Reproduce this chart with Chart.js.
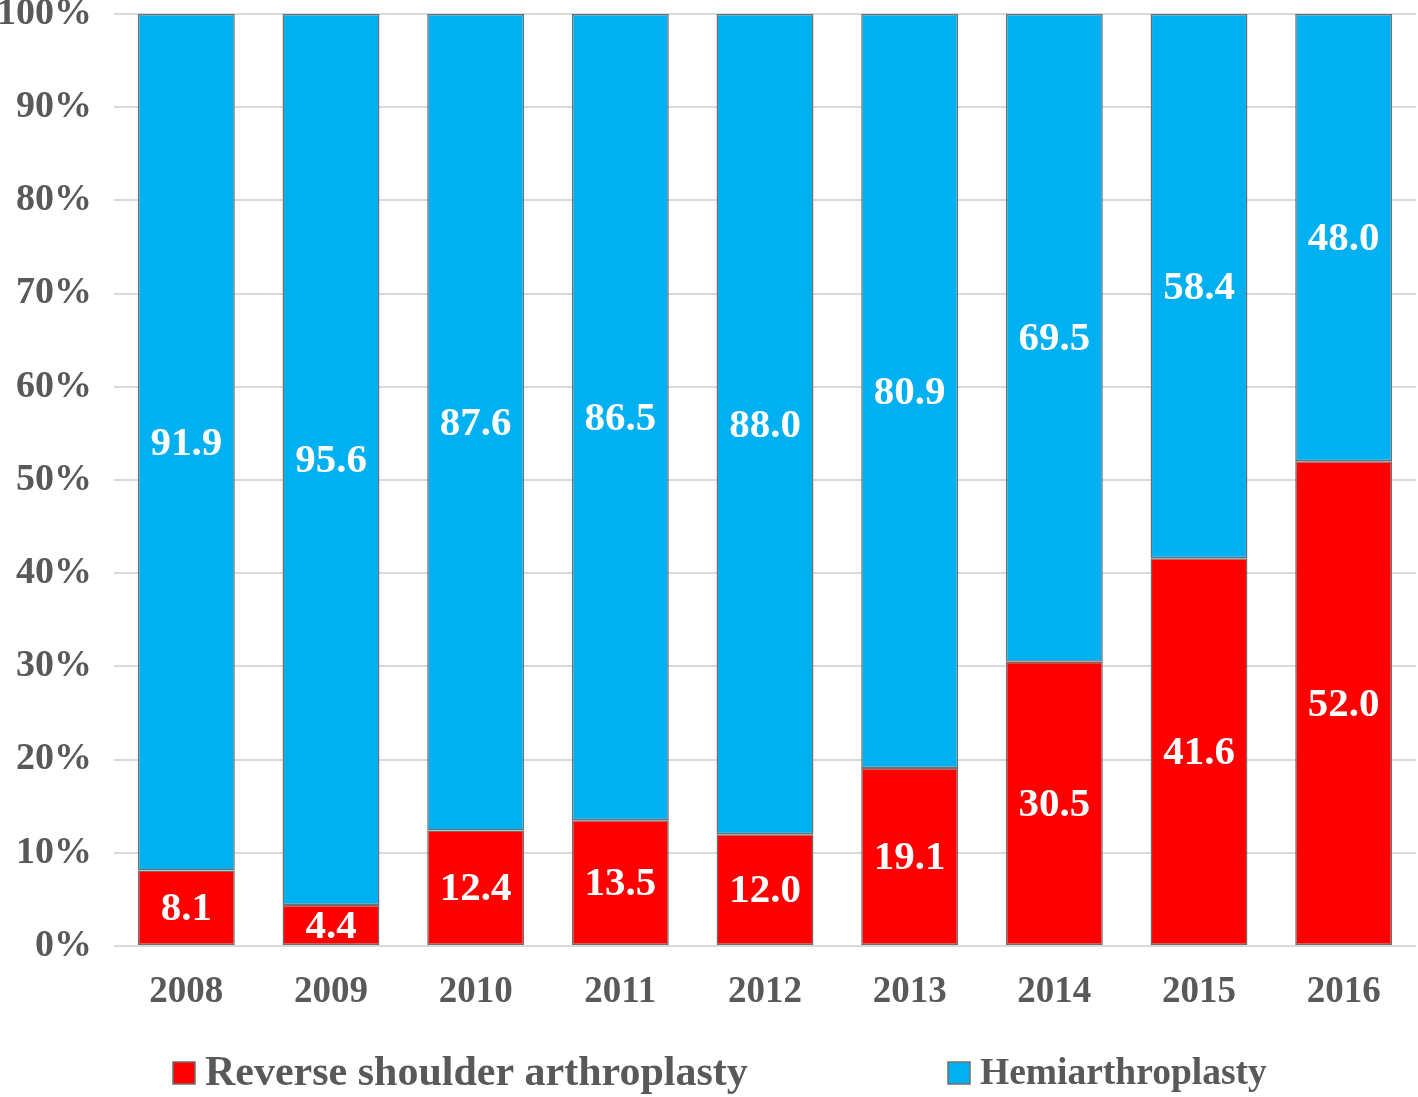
<!DOCTYPE html>
<html>
<head>
<meta charset="utf-8">
<script src="https://cdn.jsdelivr.net/npm/chart.js@4/dist/chart.umd.min.js"></script>
<style>
  html, body { margin: 0; padding: 0; background: #fff; }
  #wrap { width: 1418px; height: 1097px; }
</style>
</head>
<body>
<div id="wrap"><canvas id="chart" width="1418" height="1097"></canvas></div>
<script>
const years = ['2008', '2009', '2010', '2011', '2012', '2013', '2014', '2015', '2016'];
const reverseShoulder = [8.1, 4.4, 12.4, 13.5, 12.0, 19.1, 30.5, 41.6, 52.0];
const hemi = [91.9, 95.6, 87.6, 86.5, 88.0, 80.9, 69.5, 58.4, 48.0];
const yTicks = [0, 10, 20, 30, 40, 50, 60, 70, 80, 90, 100];

const serif = '"Liberation Serif", "Times New Roman", serif';
const grey = '#595959';

// white numbers in the middle of each segment
const barLabels = {
  id: 'barLabels',
  afterDatasetsDraw(chart) {
    const ctx = chart.ctx;
    ctx.save();
    ctx.font = 'bold 41px ' + serif;
    ctx.fillStyle = '#ffffff';
    ctx.textAlign = 'center';
    ctx.textBaseline = 'middle';
    chart.data.datasets.forEach((ds, i) => {
      chart.getDatasetMeta(i).data.forEach((bar, j) => {
        const y = (bar.y + bar.base) / 2;
        ctx.fillText(ds.data[j].toFixed(1), bar.x, y + 2);
      });
    });
    ctx.restore();
  }
};

// legend drawn at the bottom, wide spacing like the original
const bottomLegend = {
  id: 'bottomLegend',
  afterDraw(chart) {
    const ctx = chart.ctx;
    const xs = [173, 948];
    const sizes = [42, 37.5];
    const y = 1073;
    ctx.save();
    ctx.textBaseline = 'middle';
    chart.data.datasets.forEach((ds, i) => {
      ctx.fillStyle = ds.backgroundColor;
      ctx.fillRect(xs[i], y - 11, 22, 22);
      ctx.strokeStyle = '#6f6f6f';
      ctx.lineWidth = 1.5;
      ctx.strokeRect(xs[i], y - 11, 22, 22);
      ctx.font = 'bold ' + sizes[i] + 'px ' + serif;
      ctx.fillStyle = grey;
      ctx.fillText(ds.label, xs[i] + 32, y + 1);
    });
    ctx.restore();
  }
};

new Chart(document.getElementById('chart').getContext('2d'), {
  type: 'bar',
  data: {
    labels: years,
    datasets: [
      {
        label: 'Reverse shoulder arthroplasty',
        data: reverseShoulder,
        backgroundColor: '#ff0000',
        borderColor: '#6f6f6f',
        borderWidth: 1.5,
        borderSkipped: false
      },
      {
        label: 'Hemiarthroplasty',
        data: hemi,
        backgroundColor: '#00b0f0',
        borderColor: '#6f6f6f',
        borderWidth: 1.5,
        borderSkipped: false
      }
    ]
  },
  options: {
    responsive: false,
    animation: false,
    layout: { padding: { top: 14, right: 2, bottom: 56, left: 0 } },
    datasets: { bar: { barPercentage: 0.67, categoryPercentage: 1 } },
    plugins: {
      legend: { display: false },
      tooltip: { enabled: false }
    },
    scales: {
      x: {
        stacked: true,
        grid: { display: false },
        border: { display: false },
        ticks: { color: grey, font: { family: serif, size: 37, weight: 'bold' }, padding: 16 },
        afterFit: (scale) => { scale.height = 95; scale.paddingLeft = 0; scale.paddingRight = 0; }
      },
      y: {
        stacked: true,
        min: 0,
        max: 100,
        afterBuildTicks: (axis) => { axis.ticks = yTicks.map(v => ({ value: v })); },
        grid: { color: '#d9d9d9', lineWidth: 2, drawTicks: false },
        border: { display: false },
        ticks: {
          color: grey,
          font: { family: serif, size: 38, weight: 'bold' },
          padding: 22,
          callback: (v) => v + '%'
        },
        afterFit: (scale) => { scale.width = 114; scale.paddingTop = 0; scale.paddingBottom = 0; }
      }
    }
  },
  plugins: [barLabels, bottomLegend]
});
</script>
</body>
</html>
